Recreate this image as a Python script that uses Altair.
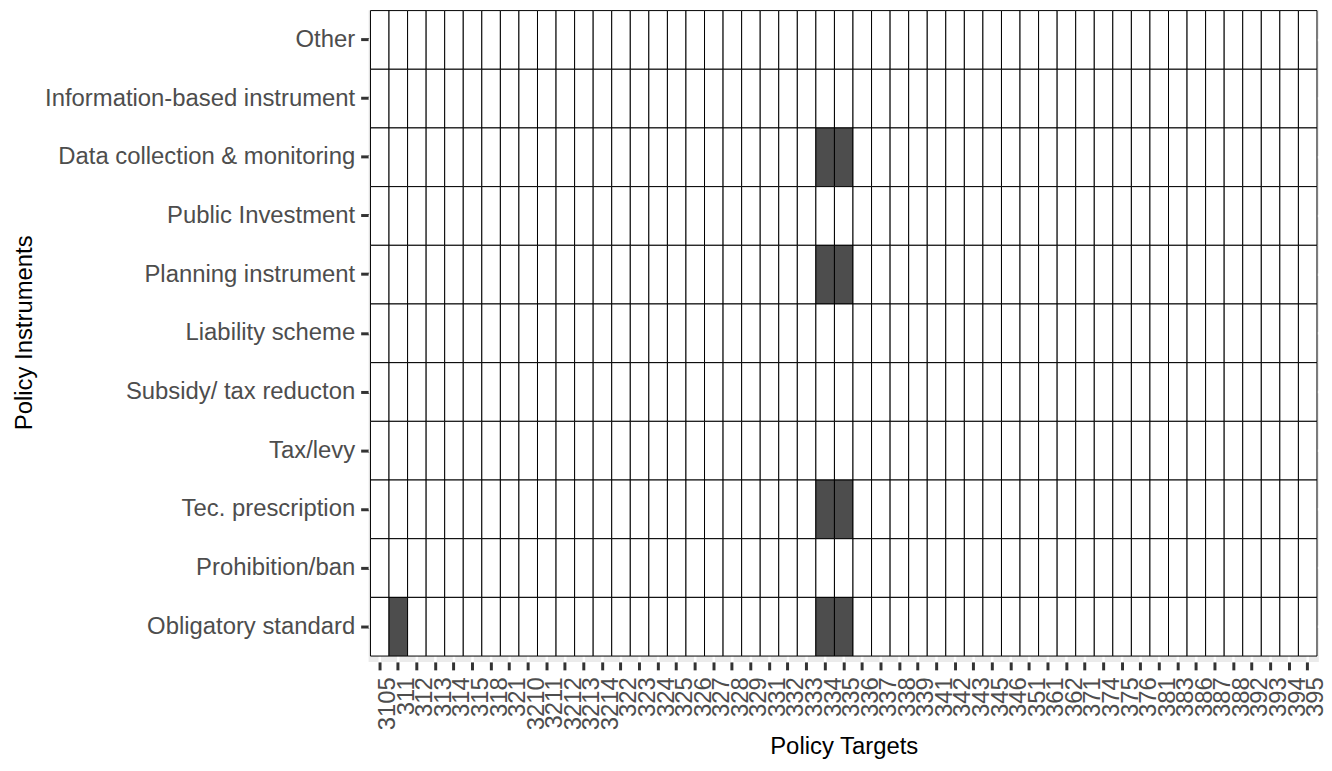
import altair as alt
import pandas as pd

targets = ["3105", "311", "312", "313", "314", "315", "318", "321", "3210", "3211",
           "3212", "3213", "3214", "322", "323", "324", "325", "326", "327", "328",
           "329", "331", "332", "333", "334", "335", "336", "337", "338", "339",
           "341", "342", "343", "345", "346", "351", "361", "362", "371", "374",
           "375", "376", "381", "383", "386", "387", "388", "392", "393", "394", "395"]

instruments = ["Other", "Information-based instrument", "Data collection & monitoring",
               "Public Investment", "Planning instrument", "Liability scheme",
               "Subsidy/ tax reducton", "Tax/levy", "Tec. prescription",
               "Prohibition/ban", "Obligatory standard"]

# cells that are filled (instrument, target)
filled_instr = ["Obligatory standard", "Obligatory standard", "Obligatory standard",
                "Tec. prescription", "Tec. prescription",
                "Planning instrument", "Planning instrument",
                "Data collection & monitoring", "Data collection & monitoring"]
filled_target = ["311", "334", "335",
                 "334", "335",
                 "334", "335",
                 "334", "335"]

filled = set(zip(filled_instr, filled_target))
rows = []
for ins in instruments:
    for t in targets:
        rows.append({"target": t, "instrument": ins,
                     "present": 1 if (ins, t) in filled else 0})
df = pd.DataFrame(rows)
df_t = pd.DataFrame({"target": targets})
df_i = pd.DataFrame({"instrument": instruments})

FONT = "Liberation Sans, Arial, Helvetica, sans-serif"

x_enc = alt.X("target:N", sort=targets, title="Policy Targets",
              scale=alt.Scale(domain=targets, paddingInner=0, paddingOuter=0.1),
              axis=alt.Axis(labelAngle=270, labelAlign="right", labelBaseline="middle",
                            labelOffset=8.5, labelPadding=7, labelFontSize=24,
                            labelColor="#4D4D4D", labelFont=FONT, labelOverlap=False,
                            tickSize=8, tickWidth=3, tickColor="#333333",
                            bandPosition=0.5, domain=False, grid=False,
                            titleFontSize=24, titleFont=FONT, titleColor="black",
                            titleFontWeight="normal", titleBaseline="alphabetic",
                            titleY=92.6))
y_enc = alt.Y("instrument:N", sort=instruments, title="Policy Instruments",
              scale=alt.Scale(domain=instruments, paddingInner=0, paddingOuter=0.0525,
                              align=0.05),
              axis=alt.Axis(labelFontSize=24, labelColor="#4D4D4D", labelFont=FONT,
                            labelPadding=6, labelLimit=500,
                            tickSize=8, tickWidth=3, tickColor="#333333",
                            bandPosition=0.5, domain=False, grid=False,
                            titleFontSize=24, titleFont=FONT, titleColor="black",
                            titleFontWeight="normal", titleAngle=270,
                            titleBaseline="alphabetic", titleAlign="center",
                            titleX=-338.8, titleY=324))

grid_x = alt.Chart(df_t).mark_rule(color="white", strokeWidth=2.5).encode(x=x_enc)
grid_y = alt.Chart(df_i).mark_rule(color="white", strokeWidth=2.5).encode(y=y_enc)

tiles = alt.Chart(df).mark_rect(stroke="black", strokeWidth=1).encode(
    x=x_enc,
    y=y_enc,
    fill=alt.Fill("present:N", scale=alt.Scale(domain=[0, 1], range=["white", "#4D4D4D"]),
                  legend=None),
)

chart = alt.layer(grid_x, grid_y, tiles).properties(
    width=956, height=655.6,
    autosize=alt.AutoSizeParams(type="none"),
    padding={"left": 362.8, "top": 0, "right": 5.2, "bottom": 99},
).configure_view(fill="#EBEBEB", stroke=None)

chart.save("out.html", embed_options={"renderer": "svg", "actions": False})
